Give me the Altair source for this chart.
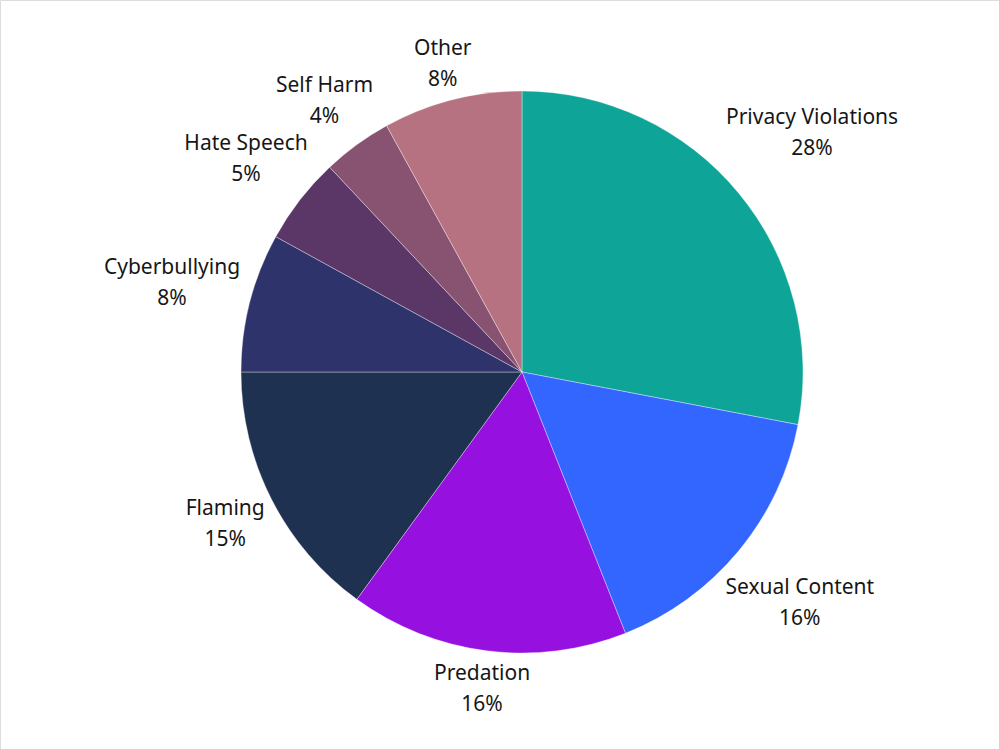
import altair as alt
import pandas as pd

categories = ["Privacy Violations", "Sexual Content", "Predation", "Flaming",
              "Cyberbullying", "Hate Speech", "Self Harm", "Other"]
shares = [28, 16, 16, 15, 8, 5, 4, 8]
colors = ["#0ea598", "#3366ff", "#9610e0", "#1f3150",
          "#2e336c", "#5b3767", "#885271", "#b77282"]

df = pd.DataFrame({
    "category": categories,
    "share": shares,
    "order": list(range(len(categories))),
})

CX, CY, R = 522, 372, 281
FONT = "Noto Sans"

pie = alt.Chart(df).mark_arc(
    outerRadius=R, stroke="white", strokeWidth=1, strokeOpacity=0.35
).encode(
    theta=alt.Theta("share:Q", stack=True),
    order=alt.Order("order:Q"),
    color=alt.Color("category:N", sort=categories,
                    scale=alt.Scale(domain=categories, range=colors),
                    legend=None),
    x=alt.value(CX),
    y=alt.value(CY),
)

# labels sit just outside the rim; the offset grows with the label box
labels = alt.Chart(df).transform_joinaggregate(
    total="sum(share)"
).transform_window(
    cum="sum(share)", sort=[alt.SortField("order")]
).transform_calculate(
    mid="(datum.cum - datum.share / 2) / datum.total * 2 * PI",
    w="length(datum.category) * 10.3",
    lr="291 + abs(sin(datum.mid)) * datum.w / 2 + abs(cos(datum.mid)) * 22",
    lx=f"{CX} + datum.lr * sin(datum.mid)",
    ly=f"{CY} - datum.lr * cos(datum.mid)",
    label="datum.category + '\\n' + datum.share + '%'",
).mark_text(
    font=FONT, fontSize=21, color="#161616", align="center",
    baseline="middle", lineBreak="\n", lineHeight=31, dy=-14,
).encode(
    text="label:N",
    x=alt.X("lx:Q", scale=None),
    y=alt.Y("ly:Q", scale=None),
)

chart = alt.layer(pie, labels).properties(
    width=999, height=749,
    autosize=alt.AutoSizeParams(type="none"),
    padding=0,
).configure_view(stroke=None).configure(background="white")

chart.save("out.html", embed_options={"renderer": "svg", "actions": False})
